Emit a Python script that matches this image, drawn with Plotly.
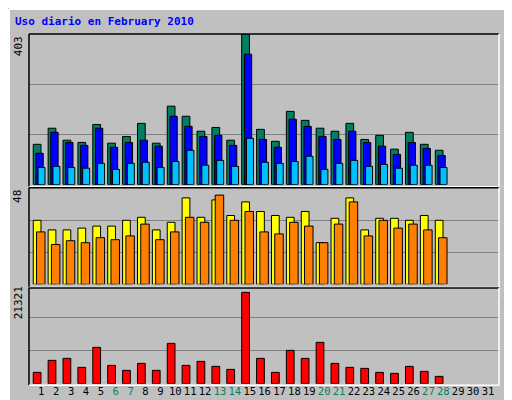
import plotly.graph_objects as go

days = list(range(1, 32))
day_labels = [str(d) for d in days]
weekend = [6, 7, 13, 14, 20, 21, 27, 28]

hits  = [108,151,119,113,161,111,129,164,111,210,183,143,153,119,403,148,116,196,172,151,143,164,121,132,95,140,108,92]
files = [84,140,113,105,151,100,113,119,103,183,156,129,132,105,349,121,100,175,156,129,121,143,113,103,81,113,97,78]
pages = [46,49,46,44,57,41,57,60,46,62,92,52,65,49,124,60,57,62,76,41,57,65,49,54,44,52,52,46]
visits = [32,27.2,27.2,28.1,29.1,29.1,32,33.5,27.2,31,43.2,33.5,42.2,34.4,41.2,36.4,34.4,33.5,36.4,20.8,33,43.2,27.2,33,33,32,34.4,32]
sites  = [26.2,19.9,21.8,20.8,23.3,22.3,24.2,30.1,22.3,26.2,33.5,31,44.6,32,36.4,26.2,25.2,31,29.1,20.8,30.1,41.2,24.2,32,28.1,30.1,27.2,23.3]
kbytes = [2441,5025,5456,3518,7825,3948,2871,4379,2871,8686,3948,4810,3733,3087,19670,5456,2441,7179,5456,8902,4379,3518,3302,2441,2225,3733,2656,1579]
max_hits, max_visits, max_kb = 403, 48, 21321

dx = days[:28]
BG = "#C0C0C0"
line = dict(color="black", width=1)
fig = go.Figure()
def bar(y, ax, color, off, w=0.52):
    fig.add_trace(go.Bar(x=dx, y=y, yaxis=ax, offset=off, width=w,
                         marker=dict(color=color, line=line), showlegend=False))
bar(hits, "y", "#008060", -0.54)
bar(files, "y", "#0000FF", -0.36, 0.49)
bar(pages, "y", "#00C0FF", -0.22, 0.47)
bar(visits, "y2", "#FFFF00", -0.54)
bar(sites, "y2", "#FF8000", -0.32, 0.57)
bar(kbytes, "y3", "#FF0000", -0.54)

ticktext = [f"<span style='color:#008060'>{l}</span>" if d in weekend else l
            for d, l in zip(days, day_labels)]
def yax(dom, mx):
    return dict(domain=dom, range=[0, mx], tickvals=[mx/3, 2*mx/3], showticklabels=False,
                gridcolor="#808080", gridwidth=1, zeroline=False, showline=False, fixedrange=True)
fig.update_layout(
    width=512, height=400, paper_bgcolor=BG, plot_bgcolor=BG,
    margin=dict(l=21, r=21, t=26, b=23), barmode="overlay",
    font=dict(family="DejaVu Sans Mono", size=11, color="black"),
    xaxis=dict(range=[0.175, 31.74], tickvals=days, ticktext=ticktext, anchor="y3",
               showgrid=False, zeroline=False, ticks="", tickangle=0,
               tickfont=dict(size=10.5)),
    yaxis=yax([0.5707, 1], max_hits),
    yaxis2=yax([0.2869, 0.5604], max_visits),
    yaxis3=yax([0.0037, 0.2858], max_kb),
)
shapes = []
def ln(x0, y0, x1, y1, c="black", w=1.5):
    shapes.append(dict(type="line", xref="paper", yref="paper", x0=x0, y0=y0, x1=x1, y1=y1,
                       line=dict(color=c, width=w), layer="above"))
for top, bot in [(1.0, 0.565), (0.562, 0.278), (0.276, -0.001)]:
    ln(0, top, 1, top, "black")
    ln(0, bot, 0, top, "black")
    ln(1, bot, 1, top, "white")
    ln(0, bot, 1, bot, "white")
# outer bevel frame
L, R = (1 - 21) / 470, (510 - 21) / 470
T, B = (377 - 1) / 351, (377 - 398) / 351
ln(L, T, R, T, "white", 2); ln(L, B, L, T, "white", 2)
ln(R, B, R, T, "#606060", 3); ln(L, B, R, B, "#606060", 3)
fig.update_layout(shapes=shapes)

fig.add_annotation(text="<b>Uso diario en February 2010</b>", xref="paper", yref="paper",
                   x=(5 - 21) / 470, y=(377 - 14) / 351, xanchor="left", yanchor="middle",
                   showarrow=False, font=dict(color="#0000FF", size=11))
for txt, yv in [(str(max_hits), 1.0), (str(max_visits), 0.5604), (str(max_kb), 0.2858)]:
    fig.add_annotation(text=txt, xref="paper", yref="paper", x=-0.005, y=yv, xanchor="right",
                       yanchor="top", textangle=-90, showarrow=False, font=dict(size=11))
def sp(t, c):
    return f"<span style='color:{c}'>{t}</span>"
right = [
    (sp("Páginas", "#00C0FF") + " / " + sp("Archivos", "#0000FF") + " / " + sp("Accesos", "#008060"), 0.995),
    (sp("Clientes", "#FF8000") + " / " + sp("Visitas", "#FFFF00"), 0.555),
    (sp("kB F", "#FF0000") + " / " + sp("kB In", "#0000FF") + " / " + sp("kB Out", "#008060"), 0.272),
]
for txt, yv in right:
    fig.add_annotation(text=txt, xref="paper", yref="paper", x=(501 - 21) / 470, y=yv,
                       xanchor="center", yanchor="top", textangle=-90, showarrow=False,
                       font=dict(size=11))
fig.write_html("out.html")
